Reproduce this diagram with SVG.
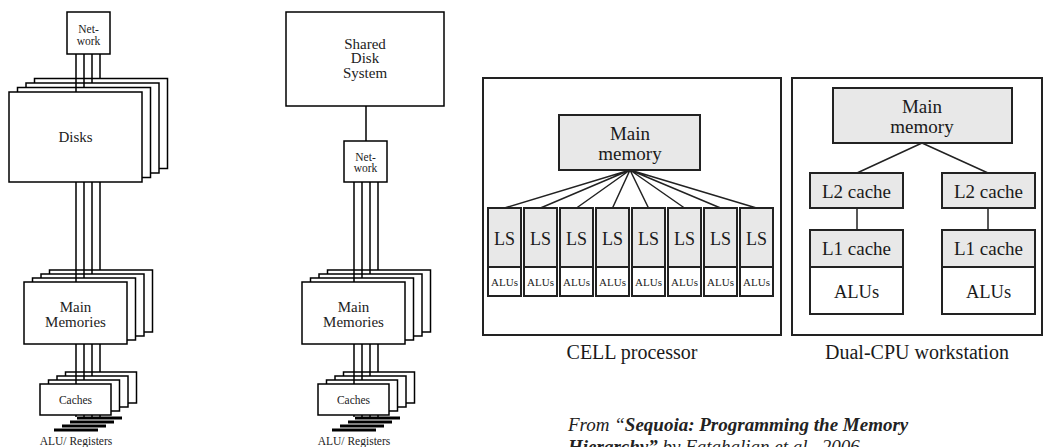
<svg xmlns="http://www.w3.org/2000/svg" width="1045" height="447" viewBox="0 0 1045 447">
<style>
.bx{fill:#fff;stroke:#000;stroke-width:1.5}
.ln{stroke:#000;stroke-width:1.5;fill:none}
.bar{fill:#000}
.cm{font-family:'Liberation Serif','Times New Roman',Times,'DejaVu Serif',serif;fill:#222;text-anchor:middle}
.s{font-size:11.5px}
.m{font-size:15px}
.ob{fill:#fff;stroke:#222;stroke-width:2}
.gb{fill:#e8e8e8;stroke:#222;stroke-width:2}
.wb{fill:#fff;stroke:#222;stroke-width:2}
.cl{stroke:#222;stroke-width:1.5;fill:none}
.tt{font-family:'Liberation Serif','Times New Roman',Times,'DejaVu Serif',serif;fill:#1a1a1a;text-anchor:middle}
.cite{font-family:'Liberation Serif','Times New Roman',Times,serif;fill:#222;font-size:19px;font-style:italic}
</style>

<!-- Left diagram: distributed memory -->
<g id="left-diagram">
  <g id="left-disks">
    <rect class="bx" x="34.5" y="78.5" width="133" height="90"/>
    <rect class="bx" x="26" y="83" width="133" height="90"/>
    <rect class="bx" x="17.5" y="87.5" width="133" height="90"/>
    <rect class="bx" x="9" y="92" width="133" height="90"/>
    <text class="cm m" x="75.5" y="142">Disks</text>
  </g>
  <g id="left-network">
    <rect class="bx" x="67" y="12" width="43" height="42"/>
    <text class="cm s" x="88.5" y="33">Net-</text>
    <text class="cm s" x="88.5" y="45">work</text>
  </g>
  <g id="left-memories">
    <rect class="bx" x="49.5" y="270" width="103" height="62"/>
    <rect class="bx" x="41" y="274" width="103" height="62"/>
    <rect class="bx" x="32.5" y="278" width="103" height="62"/>
    <rect class="bx" x="24" y="282" width="103" height="62"/>
    <text class="cm m" x="75.5" y="312">Main</text>
    <text class="cm m" x="75.5" y="327">Memories</text>
  </g>
  <g id="left-caches">
    <rect class="bx" x="65.5" y="372" width="71" height="31"/>
    <rect class="bx" x="57" y="376" width="71" height="31"/>
    <rect class="bx" x="48.5" y="380" width="71" height="31"/>
    <rect class="bx" x="40" y="384" width="71" height="31"/>
    <text class="cm s" x="75.5" y="404">Caches</text>
  </g>
  <g id="left-alu">
    <rect class="bar" x="77" y="416.5" width="45" height="3"/>
    <rect class="bar" x="70" y="420.5" width="44" height="3"/>
    <rect class="bar" x="62" y="424.5" width="44" height="3"/>
    <rect class="bar" x="54" y="428.5" width="44" height="3"/>
    <text class="cm s" x="76" y="445">ALU/ Registers</text>
  </g>
</g>

<!-- Middle diagram: shared disk -->
<g id="mid-diagram">
  <g id="mid-shared-disk">
    <rect class="bx" x="286" y="12" width="158" height="94"/>
    <text class="cm m" x="365" y="48.5">Shared</text>
    <text class="cm m" x="365" y="63">Disk</text>
    <text class="cm m" x="365" y="77.5">System</text>
  </g>
  <g id="mid-network">
    <rect class="bx" x="344" y="141" width="43" height="41"/>
    <text class="cm s" x="365.5" y="160.5">Net-</text>
    <text class="cm s" x="365.5" y="172">work</text>
  </g>
  <g id="mid-memories">
    <rect class="bx" x="327.5" y="270" width="103" height="62"/>
    <rect class="bx" x="319" y="274" width="103" height="62"/>
    <rect class="bx" x="310.5" y="278" width="103" height="62"/>
    <rect class="bx" x="302" y="282" width="103" height="62"/>
    <text class="cm m" x="353.5" y="312">Main</text>
    <text class="cm m" x="353.5" y="327">Memories</text>
  </g>
  <g id="mid-caches">
    <rect class="bx" x="343.5" y="372" width="71" height="31"/>
    <rect class="bx" x="335" y="376" width="71" height="31"/>
    <rect class="bx" x="326.5" y="380" width="71" height="31"/>
    <rect class="bx" x="318" y="384" width="71" height="31"/>
    <text class="cm s" x="353.5" y="404">Caches</text>
  </g>
  <g id="mid-alu">
    <rect class="bar" x="355" y="416.5" width="45" height="3"/>
    <rect class="bar" x="348" y="420.5" width="44" height="3"/>
    <rect class="bar" x="340" y="424.5" width="44" height="3"/>
    <rect class="bar" x="332" y="428.5" width="44" height="3"/>
    <text class="cm s" x="354" y="445">ALU/ Registers</text>
  </g>
</g>

<!-- CELL processor -->
<g id="cell">
  <rect class="ob" x="483" y="78" width="298" height="257"/>
  <g id="cell-main-memory">
    <rect class="gb" x="559" y="115" width="141" height="55"/>
    <text class="tt" x="630" y="140" font-size="19">Main</text>
    <text class="tt" x="630" y="160" font-size="19">memory</text>
  </g>
  <g id="cell-spes">
    <rect class="gb" x="488" y="208" width="33" height="59"/><rect class="wb" x="488" y="267" width="33" height="29"/>
    <rect class="gb" x="524" y="208" width="33" height="59"/><rect class="wb" x="524" y="267" width="33" height="29"/>
    <rect class="gb" x="560" y="208" width="33" height="59"/><rect class="wb" x="560" y="267" width="33" height="29"/>
    <rect class="gb" x="596" y="208" width="33" height="59"/><rect class="wb" x="596" y="267" width="33" height="29"/>
    <rect class="gb" x="632" y="208" width="33" height="59"/><rect class="wb" x="632" y="267" width="33" height="29"/>
    <rect class="gb" x="668" y="208" width="33" height="59"/><rect class="wb" x="668" y="267" width="33" height="29"/>
    <rect class="gb" x="704" y="208" width="33" height="59"/><rect class="wb" x="704" y="267" width="33" height="29"/>
    <rect class="gb" x="740" y="208" width="33" height="59"/><rect class="wb" x="740" y="267" width="33" height="29"/>
    <g class="tt" font-size="18">
      <text x="504.5" y="244.5">LS</text><text x="540.5" y="244.5">LS</text><text x="576.5" y="244.5">LS</text><text x="612.5" y="244.5">LS</text>
      <text x="648.5" y="244.5">LS</text><text x="684.5" y="244.5">LS</text><text x="720.5" y="244.5">LS</text><text x="756.5" y="244.5">LS</text>
    </g>
    <g class="tt" font-size="11">
      <text x="504.5" y="286">ALUs</text><text x="540.5" y="286">ALUs</text><text x="576.5" y="286">ALUs</text><text x="612.5" y="286">ALUs</text>
      <text x="648.5" y="286">ALUs</text><text x="684.5" y="286">ALUs</text><text x="720.5" y="286">ALUs</text><text x="756.5" y="286">ALUs</text>
    </g>
  </g>
</g>
<text class="tt" x="632" y="359" font-size="20">CELL processor</text>

<!-- Dual-CPU workstation -->
<g id="dual">
  <rect class="ob" x="792" y="78" width="250" height="257"/>
  <g id="dual-main-memory">
    <rect class="gb" x="833" y="88" width="179" height="55"/>
    <text class="tt" x="922" y="113" font-size="19">Main</text>
    <text class="tt" x="922" y="133" font-size="19">memory</text>
  </g>
  <g id="dual-cpu1">
    <rect class="gb" x="810" y="173" width="93" height="35"/>
    <text class="tt" x="856.5" y="198" font-size="19">L2 cache</text>
    <rect class="gb" x="810" y="230" width="93" height="37"/>
    <text class="tt" x="856.5" y="255" font-size="19">L1 cache</text>
    <rect class="wb" x="810" y="267" width="93" height="47"/>
    <text class="tt" x="856.5" y="298" font-size="18.5">ALUs</text>
  </g>
  <g id="dual-cpu2">
    <rect class="gb" x="942" y="173" width="93" height="35"/>
    <text class="tt" x="988.5" y="198" font-size="19">L2 cache</text>
    <rect class="gb" x="942" y="230" width="93" height="37"/>
    <text class="tt" x="988.5" y="255" font-size="19">L1 cache</text>
    <rect class="wb" x="942" y="267" width="93" height="47"/>
    <text class="tt" x="988.5" y="298" font-size="18.5">ALUs</text>
  </g>
</g>
<text class="tt" x="917" y="359" font-size="20">Dual-CPU workstation</text>

<!-- Connectors -->
<g id="connectors">
  <path class="ln" d="M76,54V92M84,54V87.5M92,54V83M100,54V78.5"/>
  <path class="ln" d="M76,182V282M84,182V278M92,182V274M100,182V270"/>
  <path class="ln" d="M76,344V384M84,344V380M92,344V376M100,344V372"/>
  <path class="ln" d="M76,415V417M84,415V417M92,415V417M100,415V417"/>
  <path class="ln" d="M366,106V141"/>
  <path class="ln" d="M354,182V282M362,182V278M370,182V274M378,182V270"/>
  <path class="ln" d="M354,344V384M362,344V380M370,344V376M378,344V372"/>
  <path class="ln" d="M354,415V417M362,415V417M370,415V417M378,415V417"/>
  <path class="cl" d="M630,170L504.5,208M630,170L540.5,208M630,170L576.5,208M630,170L612.5,208M630,170L648.5,208M630,170L684.5,208M630,170L720.5,208M630,170L756.5,208"/>
  <path class="cl" d="M922,143L857,173M922,143L988,173"/>
  <path class="cl" d="M857,208V230M988,208V230" stroke-width="2"/>
</g>

<text class="cite" x="568" y="431">From “<tspan font-weight="bold">Sequoia: Programming the Memory</tspan></text>
<text class="cite" x="568" y="453"><tspan font-weight="bold">Hierarchy”</tspan> by Fatahalian et al., 2006</text>
</svg>
